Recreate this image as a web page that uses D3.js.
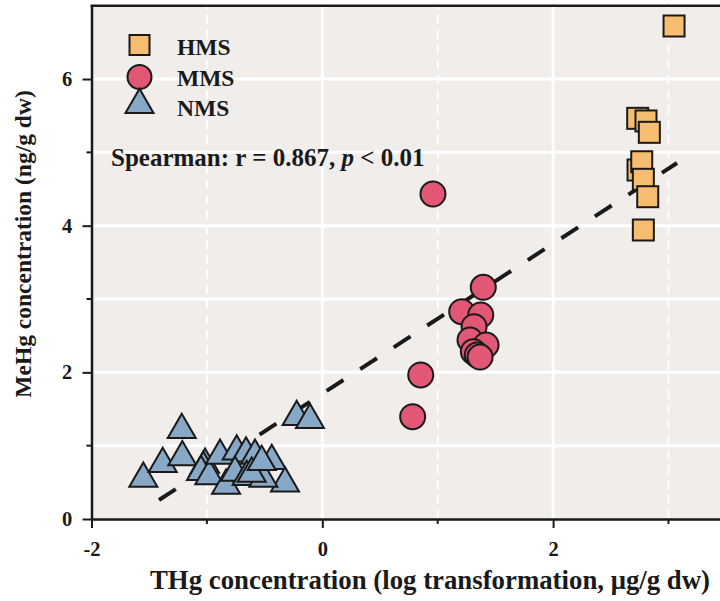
<!DOCTYPE html>
<html>
<head>
<meta charset="utf-8">
<script src="https://cdn.jsdelivr.net/npm/d3@7"></script>
<style>
  body { margin: 0; background: #fff; }
  text { font-family: "Times New Roman", "Liberation Serif", serif; font-weight: bold; fill: #1a1a1a; }
</style>
</head>
<body>
<div id="chart"></div>
<script>
// HMS samples (squares)
const hmsX = [2.733, 2.805, 2.834, 2.736, 2.768, 2.782, 2.820, 2.782, 3.048]
const hmsY = [5.464, 5.428, 5.273, 4.759, 4.872, 4.632, 4.395, 3.941, 6.723]

// MMS samples (circles)
const mmsX = [0.959, 1.395, 1.208, 1.373, 1.315, 1.280, 1.419, 1.309, 1.343, 1.367, 0.853, 0.783]
const mmsY = [4.432, 3.160, 2.827, 2.782, 2.622, 2.441, 2.373, 2.281, 2.236, 2.209, 1.964, 1.395]

// NMS samples (triangles)
const nmsX = [-1.551, -1.383, -1.218, -1.213, -1.016, -1.031, -1.051, -0.979, -0.886, -0.834, -0.742, -0.661,
  -0.583, -0.438, -0.323, -0.756, -0.655, -0.511, -0.612, -0.525, -0.222, -0.107]
const nmsY = [0.577, 0.777, 1.241, 0.869, 0.768, 0.723, 0.668, 0.610, 0.890, 0.481, 0.950, 0.923,
  0.890, 0.818, 0.514, 0.659, 0.600, 0.577, 0.645, 0.805, 1.418, 1.377]

// fitted line end points
const fitX = [-1.415, 3.074]
const fitY = [0.259, 4.855]

const xMajorTicks = [-2, 0, 2]
const xMinorTicks = [-1, 1, 3]
const yMajorTicks = [0, 2, 4, 6]
const yMinorTicks = [1, 3, 5]

const groups = ['HMS', 'MMS', 'NMS']
const groupColors = { HMS: '#f6bd70', MMS: '#e15774', NMS: '#87a9c7' }

const width = 720, height = 601
const margin = { top: 6, left: 91.5, bottom: 519 }

const svg = d3.select('#chart').append('svg')
  .attr('width', width)
  .attr('height', height)

const x = d3.scaleLinear().domain([-2, 3.5]).range([margin.left, margin.left + 5.5 * 115.4])
const y = d3.scaleLinear().domain([0, 7]).range([margin.bottom, margin.bottom - 7 * 73.33])

// plot background
svg.append('rect')
  .attr('x', x(-2)).attr('y', y(7))
  .attr('width', width - x(-2)).attr('height', y(0) - y(7))
  .attr('fill', '#f0edeb')

// horizontal gridlines
svg.append('g').selectAll('line')
  .data(d3.range(1, 7))
  .enter().append('line')
  .attr('x1', x(-2)).attr('x2', width)
  .attr('y1', d => y(d)).attr('y2', d => y(d))
  .attr('stroke', '#fff').attr('stroke-width', 3)

// vertical gridlines, solid on major ticks, dashed on minor
svg.append('g').selectAll('line')
  .data(xMajorTicks.filter(d => d > -2))
  .enter().append('line')
  .attr('x1', d => x(d)).attr('x2', d => x(d))
  .attr('y1', y(0)).attr('y2', y(7))
  .attr('stroke', '#fff').attr('stroke-width', 3)

svg.append('g').selectAll('line')
  .data(xMinorTicks)
  .enter().append('line')
  .attr('x1', d => x(d)).attr('x2', d => x(d))
  .attr('y1', y(0)).attr('y2', y(7))
  .attr('stroke', '#fff').attr('stroke-width', 2)
  .attr('stroke-dasharray', '9,6')

// axes
const xAxis = svg.append('g')
  .attr('transform', `translate(0,${y(0)})`)
  .call(d3.axisBottom(x).tickValues(xMajorTicks).tickFormat(d => String(d)).tickSize(9).tickSizeOuter(0))
xAxis.append('g').selectAll('line')
  .data(xMinorTicks)
  .enter().append('line')
  .attr('x1', d => x(d)).attr('x2', d => x(d))
  .attr('y1', 0).attr('y2', 5)
  .attr('stroke', '#1a1a1a').attr('stroke-width', 2)

const yAxis = svg.append('g')
  .attr('transform', `translate(${x(-2)},0)`)
  .call(d3.axisLeft(y).tickValues(yMajorTicks).tickFormat(d => String(d)).tickSize(9).tickSizeOuter(0))
yAxis.append('g').selectAll('line')
  .data(yMinorTicks)
  .enter().append('line')
  .attr('x1', 0).attr('x2', -5)
  .attr('y1', d => y(d)).attr('y2', d => y(d))
  .attr('stroke', '#1a1a1a').attr('stroke-width', 2)

svg.selectAll('.domain').attr('stroke', '#1a1a1a').attr('stroke-width', 2.5)
svg.selectAll('.tick line').attr('stroke', '#1a1a1a').attr('stroke-width', 2)
svg.selectAll('.tick text')
  .attr('font-size', '20.5px')
  .attr('font-family', '"Times New Roman", "Liberation Serif", serif')
  .attr('font-weight', 'bold')
  .attr('fill', '#1a1a1a')
xAxis.selectAll('.tick text').attr('dy', '1.2em')
yAxis.selectAll('.tick text').attr('dx', '-0.35em')

// top frame line
svg.append('line')
  .attr('x1', x(-2) - 1).attr('x2', width)
  .attr('y1', y(7)).attr('y2', y(7))
  .attr('stroke', '#1a1a1a').attr('stroke-width', 2.5)

// axis titles
svg.append('text')
  .attr('x', 430).attr('y', 589)
  .attr('text-anchor', 'middle')
  .attr('font-size', '26.8px')
  .text('THg concentration (log transformation, μg/g dw)')

svg.append('text')
  .attr('transform', 'translate(31,244) rotate(-90)')
  .attr('text-anchor', 'middle')
  .attr('font-size', '23.5px')
  .text('MeHg concentration (ng/g dw)')

// fitted line
svg.append('line')
  .attr('x1', x(fitX[0])).attr('y1', y(fitY[0]))
  .attr('x2', x(fitX[1])).attr('y2', y(fitY[1]))
  .attr('stroke', '#1a1a1a').attr('stroke-width', 4)
  .attr('stroke-dasharray', '20,20')

const triangle = d3.symbol().type(d3.symbolTriangle).size(340)

// NMS triangles
svg.append('g').selectAll('path')
  .data(nmsX.map((d, i) => ({ x: d, y: nmsY[i] })))
  .enter().append('path')
  .attr('d', triangle)
  .attr('transform', d => `translate(${x(d.x)},${y(d.y) + 2})`)
  .attr('fill', groupColors.NMS)
  .attr('stroke', '#1a1a1a').attr('stroke-width', 2)

// MMS circles
svg.append('g').selectAll('circle')
  .data(mmsX.map((d, i) => ({ x: d, y: mmsY[i] })))
  .enter().append('circle')
  .attr('cx', d => x(d.x)).attr('cy', d => y(d.y))
  .attr('r', 12.5)
  .attr('fill', groupColors.MMS)
  .attr('stroke', '#1a1a1a').attr('stroke-width', 2)

// HMS squares
svg.append('g').selectAll('rect')
  .data(hmsX.map((d, i) => ({ x: d, y: hmsY[i] })))
  .enter().append('rect')
  .attr('x', d => x(d.x) - 10.5).attr('y', d => y(d.y) - 10.5)
  .attr('width', 21).attr('height', 21)
  .attr('fill', groupColors.HMS)
  .attr('stroke', '#1a1a1a').attr('stroke-width', 2)

// legend
const legend = svg.append('g')
const legendY = [45, 77, 103]
legend.append('rect')
  .attr('x', 129.5).attr('y', legendY[0] - 10)
  .attr('width', 20).attr('height', 20)
  .attr('fill', groupColors.HMS).attr('stroke', '#1a1a1a').attr('stroke-width', 2)
legend.append('circle')
  .attr('cx', 139.5).attr('cy', legendY[1]).attr('r', 12)
  .attr('fill', groupColors.MMS).attr('stroke', '#1a1a1a').attr('stroke-width', 2)
legend.append('path')
  .attr('d', triangle)
  .attr('transform', `translate(139.5,${legendY[2] + 2})`)
  .attr('fill', groupColors.NMS).attr('stroke', '#1a1a1a').attr('stroke-width', 2)

legend.selectAll('text')
  .data(groups)
  .enter().append('text')
  .attr('x', 177)
  .attr('y', (d, i) => [55, 86, 116][i])
  .attr('font-size', '23.5px')
  .text(d => d)

const spear = svg.append('text')
  .attr('x', 111).attr('y', 166)
  .attr('font-size', '25px')
spear.append('tspan').text('Spearman: r = 0.867, ')
spear.append('tspan').attr('font-style', 'italic').text('p')
spear.append('tspan').text(' < 0.01')
</script>
</body>
</html>
